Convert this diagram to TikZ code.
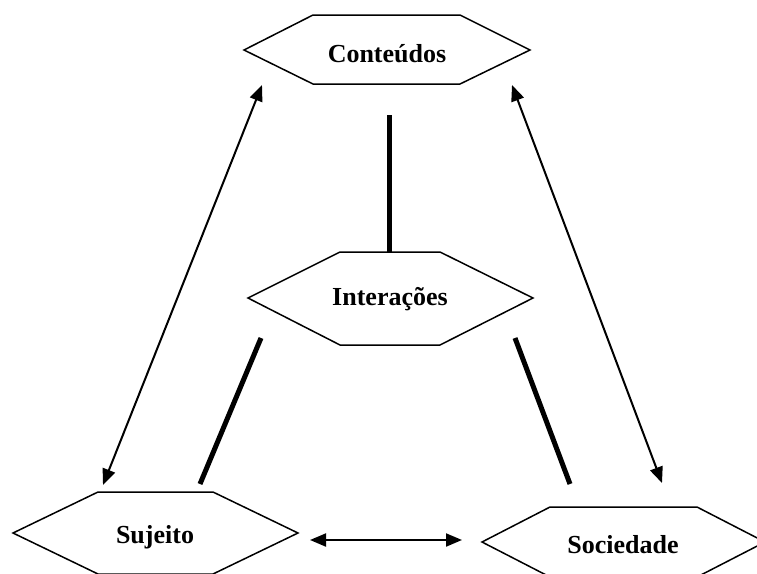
\documentclass[tikz,border=0pt]{standalone}
\usepackage{fontspec}
\setmainfont{Liberation Serif}
\usetikzlibrary{arrows.meta}
\begin{document}
\begin{tikzpicture}[x=1pt,y=-1pt,
  hexa/.style={draw=black, line width=1.5pt, line join=miter},
  word/.style={font=\fontsize{26}{30}\selectfont\bfseries, inner sep=0pt, anchor=base},
  link/.style={line width=5pt},
  rel/.style={line width=2pt, {Triangle[length=16pt,width=13pt]}-{Triangle[length=16pt,width=13pt]}}]
\useasboundingbox (0,0) rectangle (757,573);

% hexagonal frames
\draw[hexa] (244,50) -- (313,15) -- (460,15) -- (530,50) -- (460,84) -- (313,84) -- cycle;
\draw[hexa] (248,298) -- (340,252) -- (440,252) -- (533,298) -- (440,345) -- (340,345) -- cycle;
\draw[hexa] (13,533) -- (98,492) -- (213,492) -- (298,533) -- (213,574) -- (98,574) -- cycle;
\draw[hexa] (482,542) -- (550,507) -- (697,507) -- (765,542) -- (697,577) -- (550,577) -- cycle;

% labels
\node[word] (cont) at (387,62) {Conteúdos};
\node[word] (inter) at (390,305) {Interações};
\node[word] (suj) at (155,543) {Sujeito};
\node[word] (soc) at (623,553) {Sociedade};

% connector end points
\coordinate (contB) at (389,115);
\coordinate (interT) at (389,252);
\coordinate (interL) at (261,338);
\coordinate (interR) at (515,338);
\coordinate (sujT) at (200,484);
\coordinate (socT) at (570,484);
\coordinate (contL) at (262,85);
\coordinate (contR) at (512,85);
\coordinate (sujA) at (103,485);
\coordinate (socA) at (662,483);
\coordinate (sujR) at (310,540);
\coordinate (socL) at (462,540);

% thick links through the centre
\draw[link] (contB) -- (interT);
\draw[link] (interL) -- (sujT);
\draw[link] (interR) -- (socT);

% two-way relations
\draw[rel] (contL) -- (sujA);
\draw[rel] (contR) -- (socA);
\draw[rel] (sujR) -- (socL);
\end{tikzpicture}
\end{document}
